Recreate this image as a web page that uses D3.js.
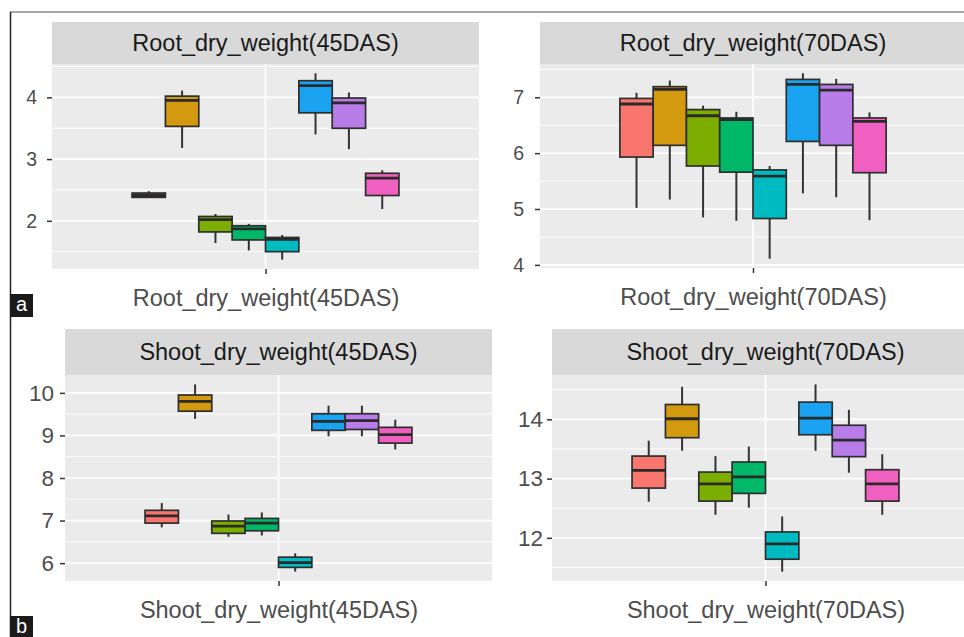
<!DOCTYPE html>
<html>
<head>
<meta charset="utf-8">
<script src="https://cdn.jsdelivr.net/npm/d3@7"></script>
<style>
  html, body { margin: 0; padding: 0; background: #ffffff; }
  svg { display: block; font-family: "Liberation Sans", Arial, sans-serif; }
</style>
</head>
<body>
<svg id="chart" width="964" height="637"></svg>
<script>
// Eight treatment groups, dodged inside each facet
const groups = ["T1", "T2", "T3", "T4", "T5", "T6", "T7", "T8"];

// Five-number summaries per group: [lower whisker, Q1, median, Q3, upper whisker]
const rootDry45 = [
  [2.37, 2.38, 2.41, 2.45, 2.48],
  [3.18, 3.53, 3.95, 4.02, 4.11],
  [1.64, 1.82, 2.02, 2.07, 2.11],
  [1.52, 1.69, 1.87, 1.92, 1.95],
  [1.37, 1.50, 1.70, 1.73, 1.77],
  [3.40, 3.75, 4.19, 4.27, 4.39],
  [3.16, 3.50, 3.91, 3.99, 4.08],
  [2.19, 2.41, 2.69, 2.77, 2.82]
];
const rootDry70 = [
  [5.02, 5.93, 6.88, 6.98, 7.08],
  [5.17, 6.14, 7.14, 7.19, 7.30],
  [4.85, 5.77, 6.67, 6.78, 6.85],
  [4.79, 5.66, 6.60, 6.63, 6.74],
  [4.11, 4.83, 5.59, 5.70, 5.77],
  [5.28, 6.21, 7.23, 7.32, 7.43],
  [5.21, 6.14, 7.13, 7.23, 7.33],
  [4.80, 5.65, 6.57, 6.63, 6.73]
];
const shootDry45 = [
  [6.84, 6.94, 7.11, 7.24, 7.41],
  [9.39, 9.57, 9.80, 9.95, 10.20],
  [6.62, 6.70, 6.87, 6.99, 7.14],
  [6.65, 6.76, 6.94, 7.05, 7.19],
  [5.80, 5.90, 6.01, 6.14, 6.23],
  [8.98, 9.12, 9.33, 9.51, 9.70],
  [8.98, 9.14, 9.35, 9.51, 9.70],
  [8.67, 8.82, 9.02, 9.19, 9.37]
];
const shootDry70 = [
  [12.61, 12.84, 13.14, 13.38, 13.64],
  [13.47, 13.69, 14.01, 14.25, 14.55],
  [12.39, 12.62, 12.91, 13.11, 13.38],
  [12.51, 12.75, 13.03, 13.28, 13.54],
  [11.43, 11.64, 11.90, 12.10, 12.36],
  [13.47, 13.74, 14.02, 14.29, 14.59],
  [13.10, 13.37, 13.65, 13.90, 14.16],
  [12.39, 12.62, 12.91, 13.15, 13.41]
];

// Facet titles and y tick labels
const facetTitles = ["Root_dry_weight(45DAS)", "Root_dry_weight(70DAS)",
                     "Shoot_dry_weight(45DAS)", "Shoot_dry_weight(70DAS)"];
const root45Ticks = [2, 3, 4];
const root70Ticks = [4, 5, 6, 7];
const shoot45Ticks = [6, 7, 8, 9, 10];
const shoot70Ticks = [12, 13, 14];
const panelLabels = ["a", "b"];

// ggplot-style hue palette
const colour = d3.scaleOrdinal()
  .domain(groups)
  .range(["#F8766D", "#D39A10", "#7CAE00", "#00B868", "#00BCC2", "#1AA3F0", "#B77CE8", "#F060C0"]);

const svg = d3.select("#chart");

// Facet layout
const facets = [
  { data: rootDry45, ticks: root45Ticks, title: facetTitles[0],
    x0: 52, x1: 479, stripTop: 22, top: 64, bottom: 269,
    tickFont: 19.5, tickPad: 10, titleFont: 23.5 },
  { data: rootDry70, ticks: root70Ticks, title: facetTitles[1],
    x0: 540, x1: 966, stripTop: 22, top: 64, bottom: 268,
    tickFont: 19.5, tickPad: 11, titleFont: 23.5 },
  { data: shootDry45, ticks: shoot45Ticks, title: facetTitles[2],
    x0: 65, x1: 492, stripTop: 329, top: 375, bottom: 581,
    tickFont: 22.5, tickPad: 6, titleFont: 23.5 },
  { data: shootDry70, ticks: shoot70Ticks, title: facetTitles[3],
    x0: 552, x1: 979, stripTop: 329, top: 375, bottom: 581,
    tickFont: 22.5, tickPad: 4, titleFont: 23.5 }
];

svg.append("defs").append("clipPath").attr("id", "frame")
  .append("rect").attr("x", 0).attr("y", 0).attr("width", 964).attr("height", 637);

const root = svg.append("g").attr("clip-path", "url(#frame)");

facets.forEach(f => {
  const g = root.append("g");
  const lo = d3.min(f.data, d => d[0]);
  const hi = d3.max(f.data, d => d[4]);
  const pad = (hi - lo) * 0.05;
  const y = d3.scaleLinear().domain([lo - pad, hi + pad]).range([f.bottom, f.top]);

  // One discrete x position; boxes are dodged across 0.75 of a unit
  const xc = d3.scaleLinear().domain([0.4, 1.6]).range([f.x0, f.x1]);
  const xBand = d3.scaleBand().domain(groups).range([xc(0.625), xc(1.375)]).padding(0);

  // Strip
  g.append("rect")
    .attr("x", f.x0).attr("y", f.stripTop)
    .attr("width", f.x1 - f.x0).attr("height", f.top - f.stripTop)
    .attr("fill", "#D9D9D9");
  g.append("text")
    .attr("x", (f.x0 + f.x1) / 2).attr("y", (f.stripTop + f.top) / 2)
    .attr("dy", "0.36em")
    .attr("text-anchor", "middle")
    .attr("font-size", f.titleFont)
    .attr("fill", "#1A1A1A")
    .text(f.title);

  // Panel background
  g.append("rect")
    .attr("x", f.x0).attr("y", f.top)
    .attr("width", f.x1 - f.x0).attr("height", f.bottom - f.top)
    .attr("fill", "#EBEBEB");

  // Minor gridlines at midpoints between major ticks
  const [d0, d1] = y.domain();
  const step = f.ticks[1] - f.ticks[0];
  const minor = [];
  for (let v = f.ticks[0] - step / 2; v <= d1; v += step) {
    if (v >= d0) minor.push(v);
  }
  g.selectAll(".minor").data(minor).join("line")
    .attr("x1", f.x0).attr("x2", f.x1)
    .attr("y1", d => y(d)).attr("y2", d => y(d))
    .attr("stroke", "#FFFFFF").attr("stroke-width", 0.9);
  g.selectAll(".major").data(f.ticks).join("line")
    .attr("x1", f.x0).attr("x2", f.x1)
    .attr("y1", d => y(d)).attr("y2", d => y(d))
    .attr("stroke", "#FFFFFF").attr("stroke-width", 1.7);
  g.append("line")
    .attr("x1", xc(1)).attr("x2", xc(1))
    .attr("y1", f.top).attr("y2", f.bottom)
    .attr("stroke", "#FFFFFF").attr("stroke-width", 1.7);

  // Boxes
  const boxes = g.selectAll(".box").data(f.data).join("g");
  boxes.append("line")
    .attr("x1", (d, i) => xBand(groups[i]) + xBand.bandwidth() / 2)
    .attr("x2", (d, i) => xBand(groups[i]) + xBand.bandwidth() / 2)
    .attr("y1", d => y(d[0])).attr("y2", d => y(d[4]))
    .attr("stroke", "#333333").attr("stroke-width", 2);
  boxes.append("rect")
    .attr("x", (d, i) => xBand(groups[i]))
    .attr("width", xBand.bandwidth())
    .attr("y", d => y(d[3]))
    .attr("height", d => Math.max(0.5, y(d[1]) - y(d[3])))
    .attr("fill", (d, i) => colour(groups[i]))
    .attr("stroke", "#2E2E2E").attr("stroke-width", 1.7);
  boxes.append("line")
    .attr("x1", (d, i) => xBand(groups[i]))
    .attr("x2", (d, i) => xBand(groups[i]) + xBand.bandwidth())
    .attr("y1", d => y(d[2])).attr("y2", d => y(d[2]))
    .attr("stroke", "#2A2A2A").attr("stroke-width", 2.8);

  // Y axis
  const ya = g.append("g").attr("transform", `translate(${f.x0},0)`)
    .call(d3.axisLeft(y).tickValues(f.ticks).tickSize(5).tickPadding(f.tickPad).tickFormat(d3.format("d")));
  ya.select(".domain").remove();
  ya.selectAll(".tick line").attr("stroke", "#333333").attr("stroke-width", 1.5);
  ya.selectAll(".tick text")
    .attr("font-size", f.tickFont)
    .attr("font-family", "Liberation Sans, Arial, sans-serif")
    .attr("fill", "#4D4D4D");

  // X axis: the single category carries the variable name
  const xPoint = d3.scalePoint().domain([f.title]).range([xc(1), xc(1)]);
  const xa = g.append("g").attr("transform", `translate(0,${f.bottom})`)
    .call(d3.axisBottom(xPoint).tickSize(5).tickPadding(15));
  xa.select(".domain").remove();
  xa.selectAll(".tick line").attr("stroke", "#333333").attr("stroke-width", 1.5);
  xa.selectAll(".tick text")
    .attr("font-size", f.titleFont)
    .attr("font-family", "Liberation Sans, Arial, sans-serif")
    .attr("fill", "#4D4D4D");
});

// Figure frame
svg.append("line").attr("x1", 10).attr("x2", 964).attr("y1", 12).attr("y2", 12)
  .attr("stroke", "#8A8A8A").attr("stroke-width", 1.5);
svg.append("line").attr("x1", 10.5).attr("x2", 10.5).attr("y1", 12).attr("y2", 637)
  .attr("stroke", "#222222").attr("stroke-width", 1.5);

// Part labels
const labelPos = [{ x: 10, y: 294, h: 23 }, { x: 10, y: 616, h: 21 }];
panelLabels.forEach((t, i) => {
  svg.append("rect").attr("x", labelPos[i].x).attr("y", labelPos[i].y)
    .attr("width", 23).attr("height", labelPos[i].h).attr("fill", "#1A1A1A");
  svg.append("text").attr("x", labelPos[i].x + 11.5).attr("y", labelPos[i].y + 17)
    .attr("text-anchor", "middle").attr("font-size", 20).attr("fill", "#FFFFFF")
    .text(t);
});
</script>
</body>
</html>
